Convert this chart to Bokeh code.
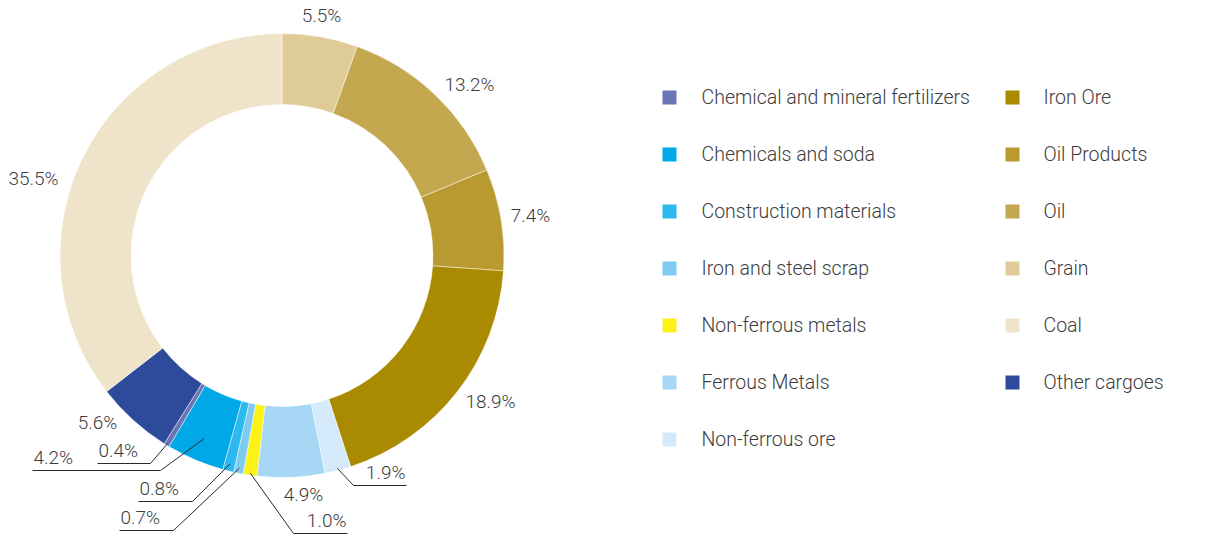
import math
from bokeh.plotting import figure
from bokeh.models import Range1d, ColumnDataSource
from bokeh.core.properties import value
from bokeh.embed import file_html
from bokeh.resources import INLINE

# ---- data (clockwise from 12 o'clock) ----
categories = ["Grain", "Oil", "Oil Products", "Iron Ore", "Non-ferrous ore",
              "Ferrous Metals", "Non-ferrous metals", "Iron and steel scrap",
              "Construction materials", "Chemicals and soda",
              "Chemical and mineral fertilizers", "Other cargoes", "Coal"]
shares = [5.5, 13.2, 7.4, 18.9, 1.9, 4.9, 1.0, 0.7, 0.8, 4.2, 0.4, 5.6, 35.5]
share_labels = ["5.5%", "13.2%", "7.4%", "18.9%", "1.9%", "4.9%", "1.0%", "0.7%",
                "0.8%", "4.2%", "0.4%", "5.6%", "35.5%"]

legend_col1 = ["Chemical and mineral fertilizers", "Chemicals and soda",
               "Construction materials", "Iron and steel scrap",
               "Non-ferrous metals", "Ferrous Metals", "Non-ferrous ore"]
legend_col2 = ["Iron Ore", "Oil Products", "Oil", "Grain", "Coal", "Other cargoes"]

# ---- styles ----
COLORS = {
    "Chemical and mineral fertilizers": "#6a75b5",
    "Chemicals and soda": "#00a8e8",
    "Construction materials": "#2db8ee",
    "Iron and steel scrap": "#7fcaf1",
    "Non-ferrous metals": "#fcf218",
    "Ferrous Metals": "#a6d7f4",
    "Non-ferrous ore": "#d4eafa",
    "Iron Ore": "#a98a00",
    "Oil Products": "#b89a30",
    "Oil": "#c4a850",
    "Grain": "#dfcb98",
    "Coal": "#efe4c9",
    "Other cargoes": "#2d4a9b",
}
FONT = value("'Roboto Light', 'Liberation Sans', sans-serif")
TEXT_COLOR = "#3d3d3d"

W, H = 1205, 539


def Y(py):
    # screenshot pixel y -> data y
    return H - py


CX, CY = 281.5, 255.0
R_OUT, R_IN = 222.0, 151.0

# label layout (screen pixels)
PLAIN_LABELS = {  # category -> text centre
    "Grain": (321, 15), "Oil": (469, 84), "Oil Products": (530, 215),
    "Iron Ore": (490, 401), "Coal": (33, 178), "Ferrous Metals": (303, 494),
    "Other cargoes": (97, 422),
}
LEADER_LABELS = {  # category -> (ring radius, elbow x, underline y, far x, side)
    "Chemicals and soda": (199, 160, 470, 32, "right"),
    "Chemical and mineral fertilizers": (220, 150, 463, 97, "right"),
    "Construction materials": (215, 192, 501, 138, "right"),
    "Iron and steel scrap": (217, 173, 530, 119, "right"),
    "Non-ferrous metals": (220, 293, 533, 347, "left"),
    "Non-ferrous ore": (220, 353, 485, 406, "left"),
}

p = figure(width=W, height=H, output_backend="svg", toolbar_location=None,
           x_range=Range1d(0, W), y_range=Range1d(0, H),
           min_border=0, outline_line_color=None)
p.axis.visible = False
p.grid.visible = False
p.background_fill_color = "white"
p.border_fill_color = "white"

# wedges
total = sum(shares)
starts, ends, mids = [], [], []
c = 0.0
for s in shares:
    c0 = c / total
    c += s
    c1 = c / total
    starts.append(math.pi / 2 - 2 * math.pi * c0)
    ends.append(math.pi / 2 - 2 * math.pi * c1)
    mids.append(2 * math.pi * (c0 + c1) / 2)  # clockwise from top

src = ColumnDataSource(dict(start=starts, end=ends,
                            color=[COLORS[k] for k in categories]))
p.annular_wedge(x=CX, y=Y(CY), inner_radius=R_IN, outer_radius=R_OUT,
                start_angle="start", end_angle="end", direction="clock",
                fill_color="color", line_color="white", line_width=0.6,
                line_alpha=0.8, source=src)

LABEL_SIZE = "19px"
# labels
for k, lab, m in zip(categories, share_labels, mids):
    if k in PLAIN_LABELS:
        tx, ty = PLAIN_LABELS[k]
        p.text(x=[tx], y=[Y(ty)], text=[lab], text_font=FONT,
               text_font_size=LABEL_SIZE, text_color=TEXT_COLOR,
               text_align="center", text_baseline="middle")
    elif k in LEADER_LABELS:
        r, ex, uy, fx, side = LEADER_LABELS[k]
        ix = CX + r * math.sin(m)
        iy = CY - r * math.cos(m)
        p.line(x=[ix, ex, fx], y=[Y(iy), Y(uy), Y(uy)], line_color="#2a2a2a",
               line_width=1)
        if side == "right":
            p.text(x=[fx + 1], y=[Y(uy - 2)], text=[lab], text_font=FONT,
                   text_font_size=LABEL_SIZE, text_color=TEXT_COLOR,
                   text_align="left", text_baseline="bottom")
        else:
            p.text(x=[fx - 1], y=[Y(uy - 2)], text=[lab], text_font=FONT,
                   text_font_size=LABEL_SIZE, text_color=TEXT_COLOR,
                   text_align="right", text_baseline="bottom")

# legend
ROW0, ROW_STEP = 97, 57
for col, (sq_x, tx) in zip([legend_col1, legend_col2], [(669, 701), (1012, 1043)]):
    ys = [Y(ROW0 + i * ROW_STEP) for i in range(len(col))]
    p.scatter(x=[sq_x] * len(col), y=ys, marker="square", size=14,
              fill_color=[COLORS[k] for k in col], line_color=None)
    p.text(x=[tx] * len(col), y=ys, text=col, text_font=FONT,
           text_font_size="19.5px", text_color=TEXT_COLOR,
           text_align="left", text_baseline="middle")

open("out.html", "w").write(file_html(p, INLINE))
